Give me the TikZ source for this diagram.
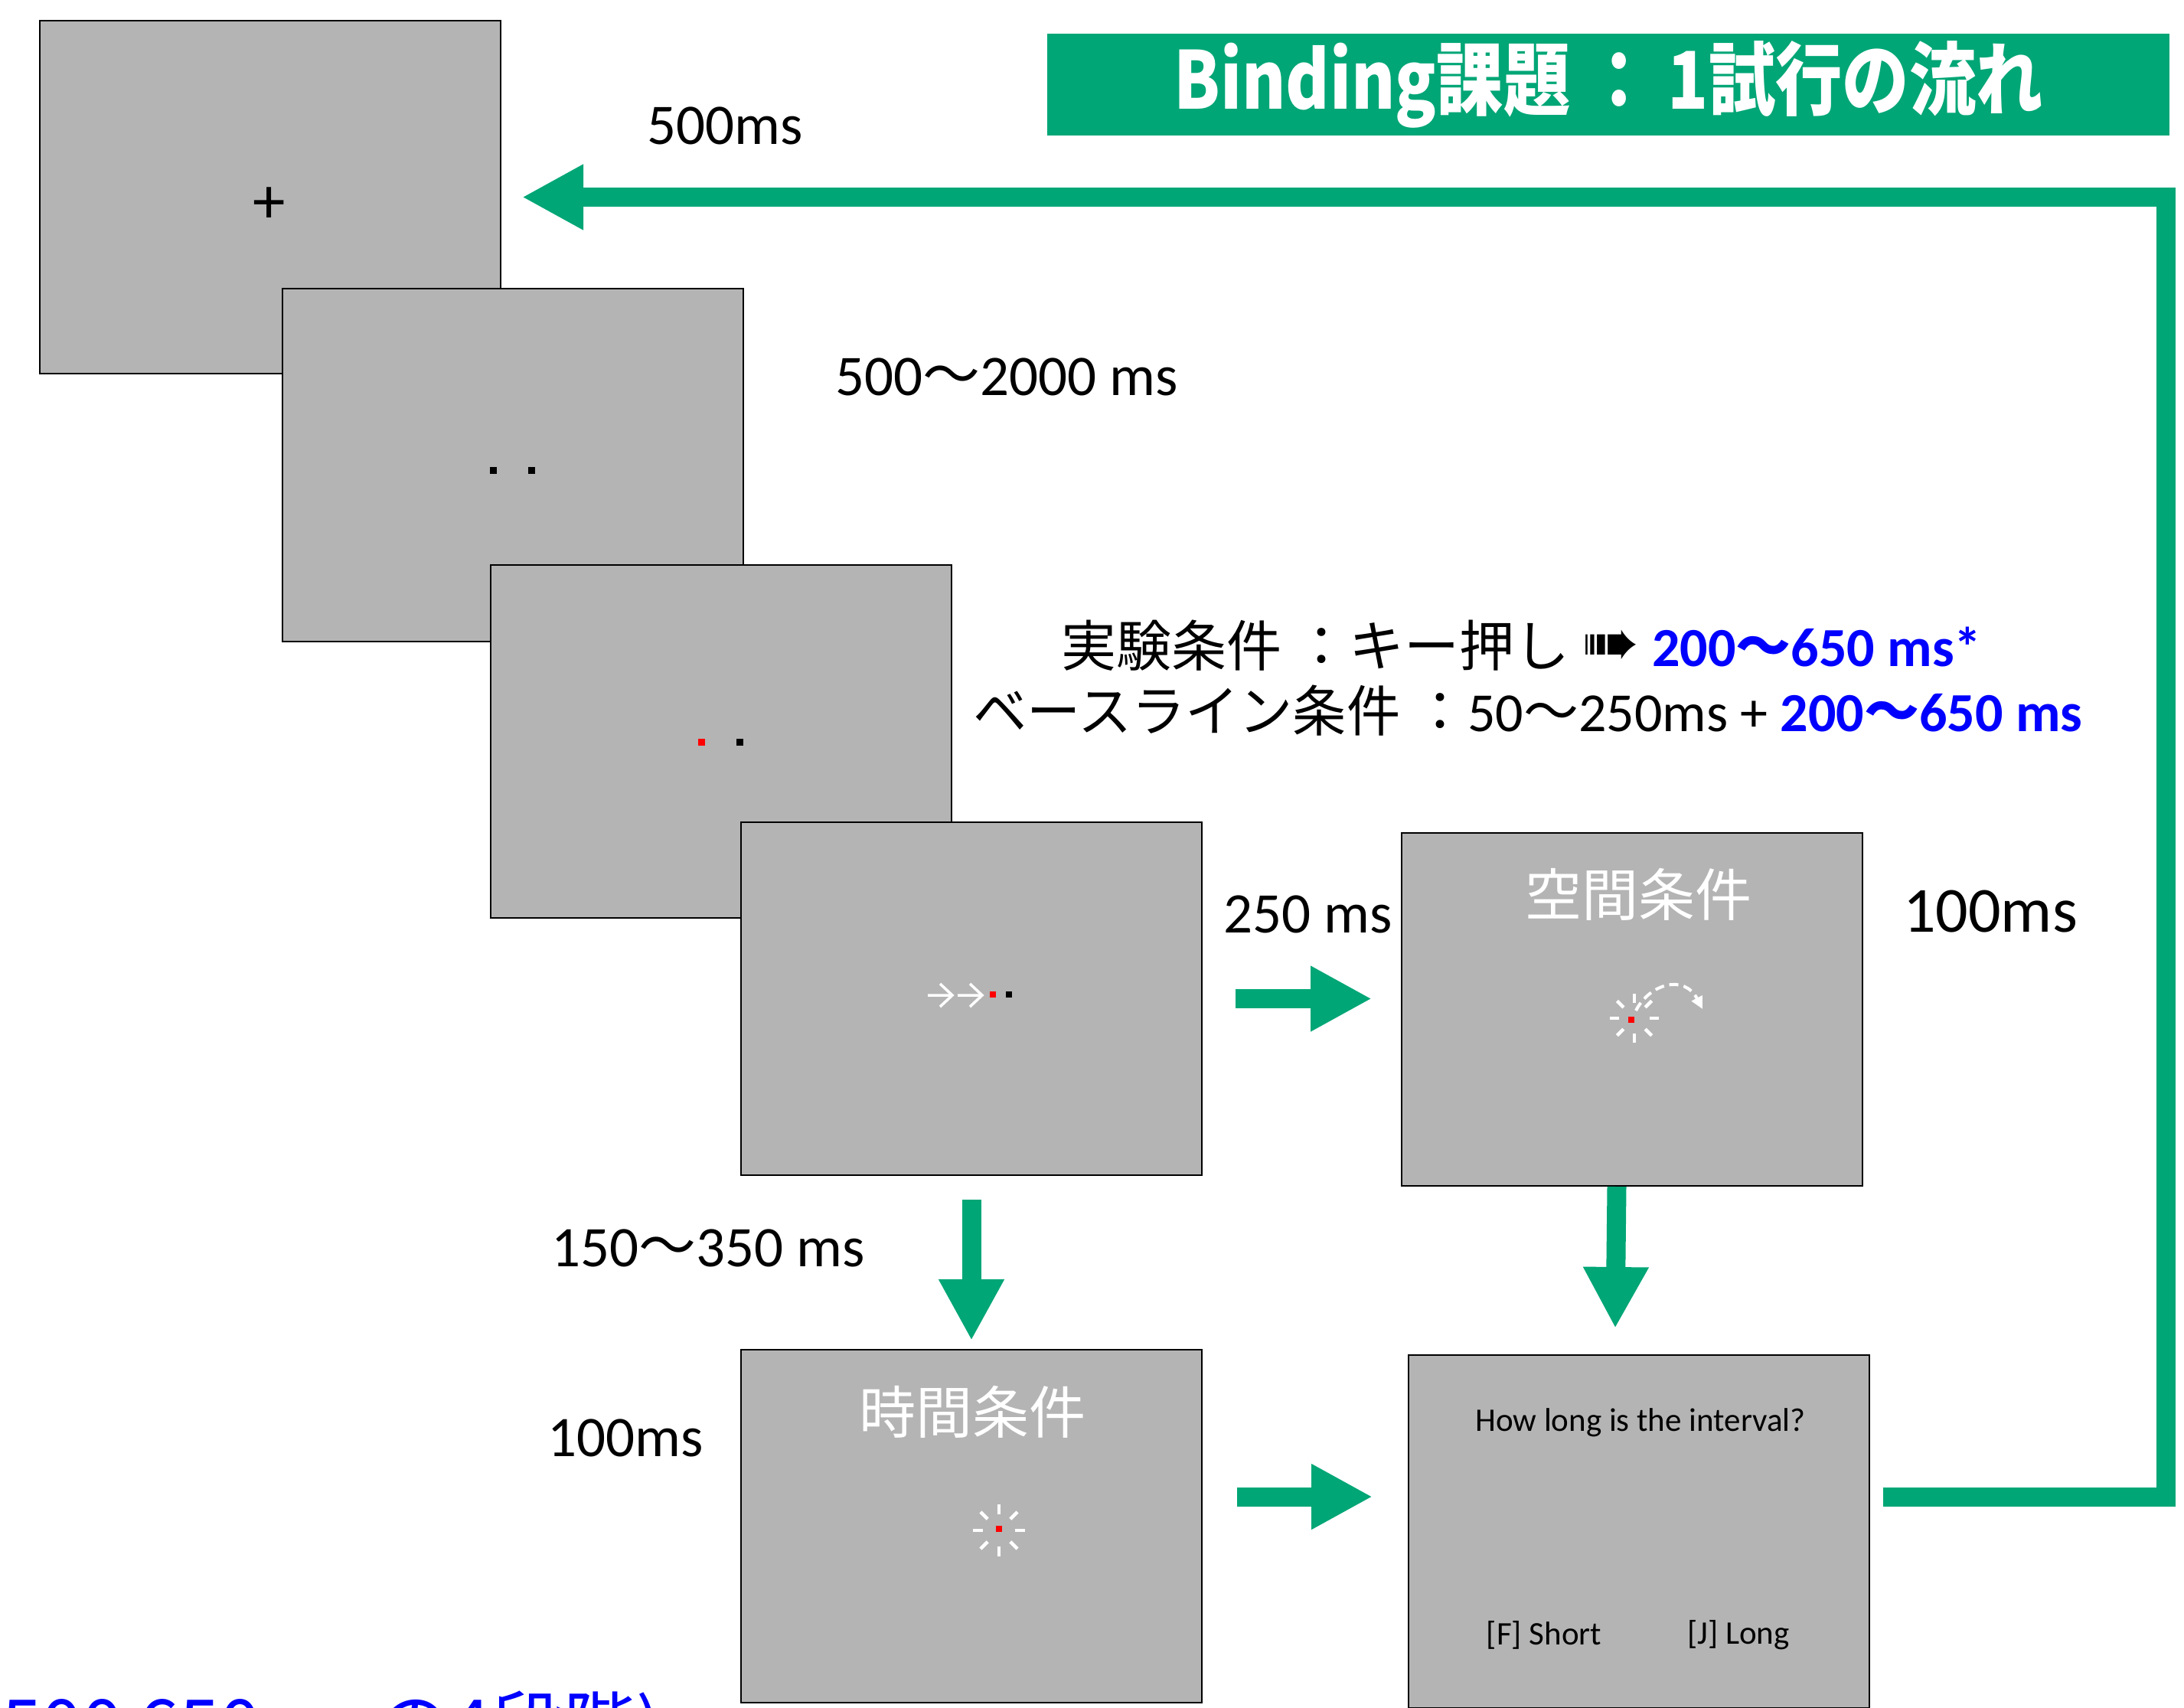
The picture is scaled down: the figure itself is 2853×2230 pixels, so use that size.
\documentclass[tikz,border=0pt]{standalone}
\usepackage{fontspec}
\setmainfont{Carlito}
\newfontfamily\jp{Noto Sans CJK JP}
\newfontfamily\dv{DejaVu Sans}
\usetikzlibrary{arrows.meta}
\definecolor{grn}{RGB}{0,166,118}
\definecolor{scr}{RGB}{180,180,180}
\definecolor{blu}{RGB}{0,0,255}
\definecolor{redd}{RGB}{255,0,0}
\newcommand{\fsz}[1]{\fontsize{#1}{#1}\selectfont}
\begin{document}
\begin{tikzpicture}[x=1pt,y=-1pt,
  screen/.style={draw=black, line width=2pt, fill=scr, rectangle, anchor=north west,
    minimum width=602pt, minimum height=461pt, inner sep=0pt},
  lbl/.style={anchor=base west, inner sep=0pt, font=\fsz{75}},
  garrow/.style={draw=grn, line width=25pt, -{Triangle[length=80pt,width=80pt]}},
  dotk/.style={fill=black, minimum size=9pt, inner sep=0pt},
  dotr/.style={fill=redd, minimum size=9pt, inner sep=0pt},
  wline/.style={draw=white, line width=3.5pt},
  btick/.style={draw=white, line width=4.5pt},
  boxtitle/.style={text=white, font=\jp\fsz{74}, inner sep=0pt},
  qtext/.style={font=\fsz{43}, inner sep=0pt}
]
\useasboundingbox (0,0) rectangle (2853,2230);

% title bar
\node[fill=grn, anchor=north west, minimum width=1466pt, minimum height=133pt, inner sep=0pt,
  text=white, font=\jp\bfseries\fsz{104}] (title) at (1368,44)
  {\raisebox{-3pt}{\scalebox{0.84}[1]{Binding課題 ： 1試行の流れ}}};

% screens
\node[screen] (b1) at (51,26) {};
\node[screen] (b2) at (368,376) {};
\node[screen] (b3) at (640,737) {};
\node[screen] (b4) at (967,1073) {};
\node[screen] (b5) at (1830,1087) {};
\node[screen] (b6) at (967,1762) {};
\node[screen] (b7) at (1839,1769) {};

% screen 1: fixation
\node[font=\fsz{85}, inner sep=0pt] (fix) at (352,268) {+};
% screen 2
\node[dotk] (d21) at (644,614) {};
\node[dotk] (d22) at (694,614) {};
% screen 3
\node[dotr] (d31) at (916,969) {};
\node[dotk] (d32) at (966,969) {};
% screen 4
\draw[wline] (1212,1300) -- (1244,1300) (1228,1285) -- (1244,1300) -- (1228,1315);
\draw[wline] (1251,1300) -- (1283,1300) (1267,1285) -- (1283,1300) -- (1267,1315);
\node[dotr, minimum size=8pt] (d41) at (1297,1299) {};
\node[dotk, minimum size=8pt] (d42) at (1318,1299) {};

% screen 5: spatial
\node[boxtitle] (t5) at (2140,1168) {空間条件};
\begin{scope}[shift={(2135,1330)}]
  \foreach \a in {0,45,...,315} \draw[btick] (\a:20) -- (\a:32);
\end{scope}
\node[dotr, minimum size=8pt] (d5) at (2131,1332) {};
\draw[white, line width=4pt, dash pattern=on 12pt off 7pt, -{Triangle[length=16pt,width=15pt]}]
  (2137,1320) .. controls (2155,1285) and (2200,1272) .. (2224,1318);

% screen 6: temporal
\node[boxtitle] (t6) at (1270,1844) {時間条件};
\begin{scope}[shift={(1305,1999)}]
  \foreach \a in {0,45,...,315} \draw[btick] (\a:21) -- (\a:34);
\end{scope}
\node[dotr, minimum size=8pt] (d6) at (1305,1997) {};

% screen 7: question
\node[qtext] (q) at (2143,1858) {How long is the interval?};
\node[qtext] (qs) at (2017,2136) {[F] Short};
\node[qtext] (ql) at (2271,2136) {[J] Long};

% labels
\node[lbl] (l1) at (845,188) {500ms};
\node[lbl] (l2) at (1091,516) {500{\jp 〜}2000 ms};
\node[lbl] (l3) at (1598,1218) {250 ms};
\node[lbl, font=\fsz{84}] (l4) at (2486,1217) {100ms};
\node[lbl] (l5) at (720,1654) {150{\jp 〜}350 ms};
\node[lbl] (l6) at (715,1902) {100ms};

% condition text
\node[anchor=base west, inner sep=0pt, font=\fsz{72}] (c1) at (1386,870)
  {{\jp 実験条件 ：キー押し} {\dv\fsz{90}➠} \textcolor{blu}{\bfseries 200{\jp\bfseries 〜}650 ms*}};
\node[anchor=base west, inner sep=0pt, font=\fsz{72}] (c2) at (1271,955)
  {{\jp\scalebox{0.975}[1]{ベースライン条件} ：}50{\jp 〜}250ms + \textcolor{blu}{\bfseries 200{\jp\bfseries 〜}650 ms}};

% cut-off note at bottom left
\node[anchor=base west, inner sep=0pt, text=blu, font=\jp\fsz{95}] (note) at (2,2288) {500~650ms の4段階)};

% arrows
\draw[garrow] ([xshift=43pt]b4.east) -- ([xshift=-38pt]b4.east -| b5.west);
\draw[garrow] ([yshift=-31pt]b4.south) -- ([yshift=11pt]b6.north);
\draw[garrow] ([xshift=-20pt]b5.south) -- ([xshift=-31pt,yshift=34pt]b7.north);
\draw[garrow] ([xshift=45pt,yshift=38.5pt]b6.east) -- ([xshift=-46pt,yshift=45.5pt]b7.west);
\coordinate (rloop) at (2829,257.5);
\draw[garrow, line join=miter] ([xshift=17pt,yshift=45.5pt]b7.east) -| (rloop) -- ([xshift=27pt]b1.east);
\end{tikzpicture}
\end{document}
